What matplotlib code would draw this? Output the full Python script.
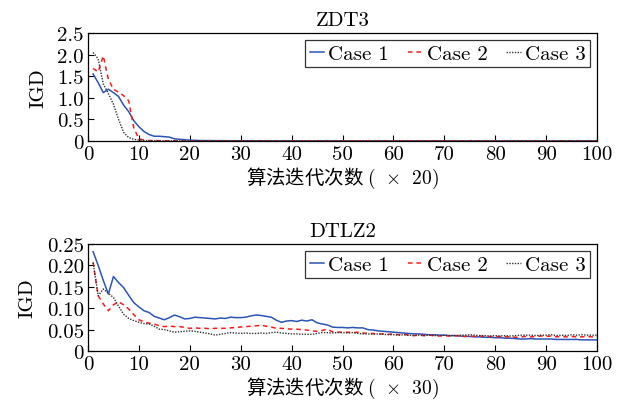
import matplotlib
matplotlib.use("Agg")
import matplotlib.pyplot as plt

plt.rcParams['font.family'] = ['cmr10']
plt.rcParams['mathtext.fontset'] = 'cm'
plt.rcParams['axes.formatter.use_mathtext'] = True
plt.rcParams['axes.unicode_minus'] = False

gen = list(range(1, 101))

# ZDT3 IGD
zdt3_case1 = [1.55, 1.35, 1.12, 1.20, 1.12, 1.03, 0.83, 0.68, 0.47, 0.33,
              0.22, 0.15, 0.11, 0.11, 0.10, 0.09, 0.05, 0.04, 0.03, 0.02,
              0.015, 0.012, 0.01, 0.01, 0.008, 0.008, 0.007, 0.006, 0.006, 0.005,
              0.005, 0.005, 0.004, 0.004, 0.004, 0.003, 0.003, 0.003, 0.003, 0.003,
              0.002, 0.002, 0.002, 0.002, 0.002, 0.002, 0.002, 0.002, 0.002, 0.002,
              0.001, 0.001, 0.001, 0.001, 0.001, 0.001, 0.001, 0.001, 0.001, 0.001,
              0.001, 0.001, 0.001, 0.001, 0.001, 0.001, 0.001, 0.001, 0.001, 0.001,
              0.001, 0.001, 0.001, 0.001, 0.001, 0.001, 0.001, 0.001, 0.001, 0.001,
              0.001, 0.001, 0.001, 0.001, 0.001, 0.001, 0.001, 0.001, 0.001, 0.001,
              0.001, 0.001, 0.001, 0.001, 0.001, 0.001, 0.001, 0.001, 0.001, 0.001]
zdt3_case2 = [1.68, 1.60, 1.97, 1.43, 1.20, 1.13, 1.05, 0.93, 0.30, 0.05,
              0.02, 0.01, 0.01, 0.008, 0.006, 0.005, 0.004, 0.004, 0.003, 0.003,
              0.003, 0.002, 0.002, 0.002, 0.002, 0.002, 0.002, 0.002, 0.002, 0.002,
              0.001, 0.001, 0.001, 0.001, 0.001, 0.001, 0.001, 0.001, 0.001, 0.001,
              0.001, 0.001, 0.001, 0.001, 0.001, 0.001, 0.001, 0.001, 0.001, 0.001,
              0.001, 0.001, 0.001, 0.001, 0.001, 0.001, 0.001, 0.001, 0.001, 0.001,
              0.001, 0.001, 0.001, 0.001, 0.001, 0.001, 0.001, 0.001, 0.001, 0.001,
              0.001, 0.001, 0.001, 0.001, 0.001, 0.001, 0.001, 0.001, 0.001, 0.001,
              0.001, 0.001, 0.001, 0.001, 0.001, 0.001, 0.001, 0.001, 0.001, 0.001,
              0.001, 0.001, 0.001, 0.001, 0.001, 0.001, 0.001, 0.001, 0.001, 0.001]
zdt3_case3 = [2.05, 1.90, 1.32, 1.10, 0.85, 0.50, 0.20, 0.08, 0.04, 0.02,
              0.01, 0.008, 0.006, 0.005, 0.004, 0.003, 0.003, 0.002, 0.002, 0.002,
              0.001, 0.001, 0.001, 0.001, 0.001, 0.001, 0.001, 0.001, 0.001, 0.001,
              0.001, 0.001, 0.001, 0.001, 0.001, 0.001, 0.001, 0.001, 0.001, 0.001,
              0.001, 0.001, 0.001, 0.001, 0.001, 0.001, 0.001, 0.001, 0.001, 0.001,
              0.001, 0.001, 0.001, 0.001, 0.001, 0.001, 0.001, 0.001, 0.001, 0.001,
              0.001, 0.001, 0.001, 0.001, 0.001, 0.001, 0.001, 0.001, 0.001, 0.001,
              0.001, 0.001, 0.001, 0.001, 0.001, 0.001, 0.001, 0.001, 0.001, 0.001,
              0.001, 0.001, 0.001, 0.001, 0.001, 0.001, 0.001, 0.001, 0.001, 0.001,
              0.001, 0.001, 0.001, 0.001, 0.001, 0.001, 0.001, 0.001, 0.001, 0.001]

# DTLZ2 IGD
dtlz2_case1 = [0.232, 0.200, 0.165, 0.133, 0.174, 0.160, 0.148, 0.130, 0.113, 0.103,
               0.094, 0.090, 0.081, 0.077, 0.073, 0.078, 0.084, 0.080, 0.075, 0.076,
               0.079, 0.078, 0.077, 0.076, 0.075, 0.077, 0.076, 0.079, 0.078, 0.078,
               0.079, 0.082, 0.084, 0.083, 0.081, 0.079, 0.072, 0.067, 0.070, 0.071,
               0.069, 0.072, 0.070, 0.073, 0.066, 0.063, 0.061, 0.056, 0.055, 0.055,
               0.054, 0.055, 0.054, 0.054, 0.050, 0.049, 0.047, 0.046, 0.045, 0.044,
               0.043, 0.042, 0.041, 0.040, 0.040, 0.039, 0.038, 0.038, 0.037, 0.037,
               0.036, 0.036, 0.035, 0.034, 0.034, 0.033, 0.033, 0.032, 0.032, 0.031,
               0.031, 0.030, 0.030, 0.029, 0.028, 0.028, 0.029, 0.028, 0.028, 0.028,
               0.028, 0.027, 0.027, 0.027, 0.027, 0.027, 0.026, 0.026, 0.026, 0.026]
dtlz2_case2 = [0.207, 0.129, 0.110, 0.094, 0.108, 0.115, 0.108, 0.098, 0.085, 0.073,
               0.068, 0.065, 0.063, 0.059, 0.057, 0.058, 0.057, 0.057, 0.055, 0.053,
               0.054, 0.053, 0.053, 0.052, 0.053, 0.053, 0.053, 0.054, 0.055, 0.056,
               0.057, 0.058, 0.059, 0.060, 0.058, 0.056, 0.053, 0.053, 0.052, 0.051,
               0.051, 0.050, 0.049, 0.047, 0.046, 0.048, 0.051, 0.045, 0.044, 0.044,
               0.044, 0.043, 0.044, 0.042, 0.041, 0.041, 0.040, 0.040, 0.039, 0.040,
               0.038, 0.039, 0.037, 0.036, 0.037, 0.036, 0.037, 0.036, 0.035, 0.036,
               0.035, 0.036, 0.035, 0.034, 0.035, 0.034, 0.035, 0.034, 0.034, 0.033,
               0.034, 0.033, 0.033, 0.032, 0.033, 0.034, 0.033, 0.034, 0.035, 0.034,
               0.035, 0.033, 0.034, 0.033, 0.034, 0.033, 0.033, 0.034, 0.033, 0.033]
dtlz2_case3 = [0.207, 0.129, 0.145, 0.135, 0.125, 0.105, 0.086, 0.076, 0.071, 0.067,
               0.064, 0.063, 0.058, 0.051, 0.050, 0.047, 0.044, 0.045, 0.046, 0.047,
               0.046, 0.044, 0.042, 0.040, 0.037, 0.039, 0.041, 0.043, 0.042, 0.041,
               0.042, 0.041, 0.041, 0.042, 0.041, 0.043, 0.044, 0.042, 0.041, 0.040,
               0.040, 0.039, 0.039, 0.039, 0.041, 0.043, 0.043, 0.042, 0.043, 0.043,
               0.042, 0.043, 0.041, 0.040, 0.040, 0.039, 0.040, 0.039, 0.038, 0.038,
               0.037, 0.038, 0.037, 0.036, 0.037, 0.036, 0.037, 0.036, 0.036, 0.037,
               0.036, 0.036, 0.037, 0.037, 0.038, 0.037, 0.036, 0.036, 0.035, 0.036,
               0.035, 0.036, 0.035, 0.036, 0.037, 0.037, 0.037, 0.036, 0.037, 0.037,
               0.038, 0.036, 0.037, 0.036, 0.038, 0.037, 0.038, 0.037, 0.037, 0.037]

xticks = [0, 10, 20, 30, 40, 50, 60, 70, 80, 90, 100]
zdt3_yticks = [0, 0.5, 1.0, 1.5, 2.0, 2.5]
zdt3_ylabels = ['0', '0.5', '1.0', '1.5', '2.0', '2.5']
dtlz2_yticks = [0, 0.05, 0.10, 0.15, 0.20, 0.25]
dtlz2_ylabels = ['0', '0.05', '0.10', '0.15', '0.20', '0.25']

fig = plt.figure(figsize=(6.24, 4.10), dpi=100)
ax1 = fig.add_axes([88 / 624, 1 - 142 / 410, 509 / 624, 108 / 410])
ax2 = fig.add_axes([88 / 624, 1 - 352 / 410, 509 / 624, 107 / 410])

panels = [
    (ax1, 'ZDT3', zdt3_case1, zdt3_case2, zdt3_case3, zdt3_yticks, zdt3_ylabels, '20'),
    (ax2, 'DTLZ2', dtlz2_case1, dtlz2_case2, dtlz2_case3, dtlz2_yticks, dtlz2_ylabels, '30'),
]

fs = 15
for ax, title, c1, c2, c3, yt, yl, mult in panels:
    ax.plot(gen, c1, color='#2b55b5', lw=1.1, label='Case 1')
    ax.plot(gen, c2, color='#ff1a1a', lw=1.1, ls=(0, (3, 2.5)), label='Case 2')
    ax.plot(gen, c3, color='#333333', lw=1.0, ls=(0, (1, 1)), label='Case 3')
    ax.set_xlim(0, 100)
    ax.set_ylim(yt[0], yt[-1])
    ax.set_xticks(xticks)
    ax.set_xticklabels([str(t) for t in xticks], fontsize=fs)
    ax.set_yticks(yt)
    ax.set_yticklabels(yl, fontsize=fs)
    ax.tick_params(direction='in', length=4, width=0.8, pad=3)
    for s in ax.spines.values():
        s.set_linewidth(0.9)
    ax.set_title(title, fontsize=fs, pad=6)
    ax.set_ylabel('IGD', fontsize=fs, labelpad=7)
    ax.set_xlabel('算法迭代次数 $(\\;\\,\\times\\;\\,' + mult + ')$', fontsize=14,
                  family='Noto Sans CJK SC', labelpad=1)
    leg = ax.legend(loc='upper right', ncol=3, fontsize=fs, frameon=True, fancybox=False,
                    edgecolor='black', handlelength=0.7, handletextpad=0.2,
                    columnspacing=0.9, borderpad=0.2, borderaxespad=0.35)
    leg.get_frame().set_linewidth(0.9)

fig.savefig('out.png', dpi=100)
